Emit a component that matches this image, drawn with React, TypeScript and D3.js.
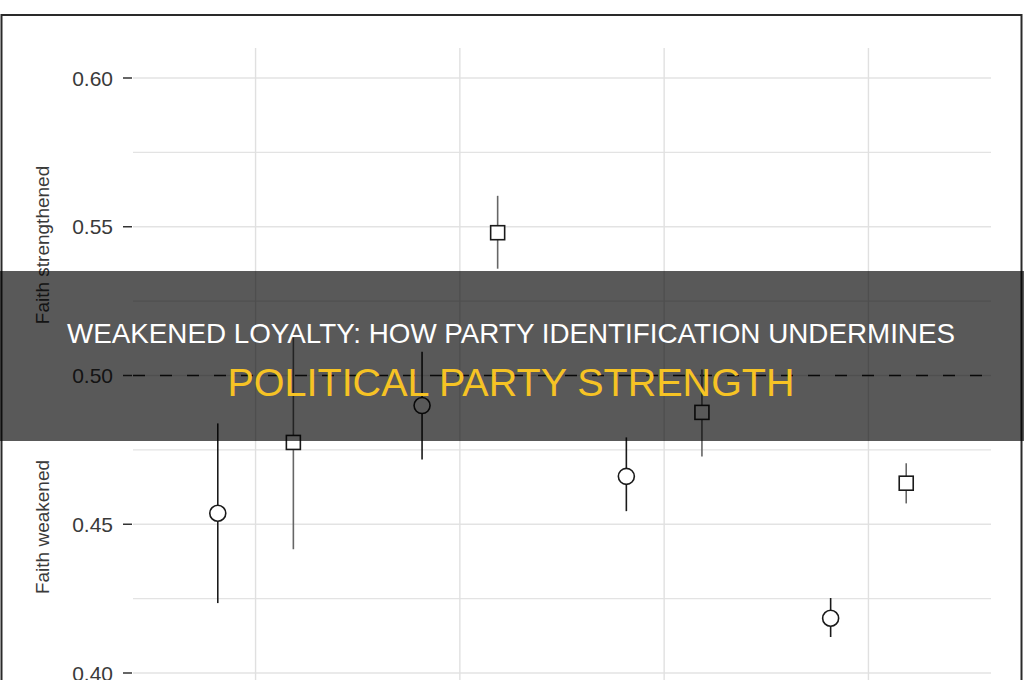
import React from "react";
import * as d3 from "d3";

const categories = ["A", "B", "C", "D"];
const circleEst = [0.4537, 0.4899, 0.4661, 0.4184];
const circleLo = [0.4235, 0.4718, 0.4544, 0.4121];
const circleHi = [0.4839, 0.508, 0.4792, 0.4252];
const squareEst = [0.4775, 0.548, 0.4876, 0.4638];
const squareLo = [0.4416, 0.5359, 0.4728, 0.457];
const squareHi = [0.5128, 0.5604, 0.502, 0.4705];
const yTicks = [0.4, 0.45, 0.5, 0.55, 0.6];
const yMinor = [0.425, 0.475, 0.525, 0.575];
const titleLine1 = "WEAKENED LOYALTY: HOW PARTY IDENTIFICATION UNDERMINES";
const titleLine2 = "POLITICAL PARTY STRENGTH";
const axisUpper = "Faith strengthened";
const axisLower = "Faith weakened";

const W = 1024;
const H = 680;

export default function App() {
  const x = d3.scaleLinear().domain([0.4, 4.6]).range([133, 991]);
  const y = d3.scaleLinear().domain([0.4, 0.6]).range([673, 78]);
  const dodge = 0.185;
  const font = "'Liberation Sans', Arial, sans-serif";
  const panelTop = 48;

  const series = [
    { shape: "circle", est: circleEst, lo: circleLo, hi: circleHi, off: -dodge, bar: "#1a1a1a" },
    { shape: "square", est: squareEst, lo: squareLo, hi: squareHi, off: dodge, bar: "#666" },
  ];

  return (
    <div style={{ position: "fixed", left: 0, top: 0, width: W, height: H, background: "#fff" }}>
      <svg width={W} height={H} style={{ display: "block" }}>
        <rect x={0} y={0} width={W} height={H} fill="#fff" />
        {[...yMinor, ...yTicks].map((t) => (
          <line key={"h" + t} x1={133} x2={991} y1={y(t)} y2={y(t)} stroke="#e3e3e3" strokeWidth={1.4} />
        ))}
        {categories.map((c, i) => (
          <line key={"v" + c} x1={x(i + 1)} x2={x(i + 1)} y1={panelTop} y2={H} stroke="#e0e0e0" strokeWidth={1.4} />
        ))}
        <line x1={133} x2={991} y1={y(0.5)} y2={y(0.5)} stroke="#1a1a1a" strokeWidth={1.3} strokeDasharray="12,15" />
        {yTicks.map((t) => (
          <g key={"t" + t}>
            <line x1={123} x2={132} y1={y(t)} y2={y(t)} stroke="#333" strokeWidth={1.5} />
            <text x={113} y={y(t)} dy="0.36em" textAnchor="end" fontFamily={font} fontSize={21} fill="#3a3a3a">
              {d3.format(".2f")(t)}
            </text>
          </g>
        ))}
        <text transform={`translate(49,${245}) rotate(-90)`} textAnchor="middle" fontFamily={font} fontSize={19} fill="#3a3a3a">
          {axisUpper}
        </text>
        <text transform={`translate(49,${527}) rotate(-90)`} textAnchor="middle" fontFamily={font} fontSize={19} fill="#3a3a3a">
          {axisLower}
        </text>
        {series.map((s) =>
          categories.map((c, i) => {
            const cx = x(i + 1 + s.off);
            return (
              <g key={s.shape + c}>
                <line x1={cx} x2={cx} y1={y(s.lo[i])} y2={y(s.hi[i])} stroke={s.bar} strokeWidth={1.6} />
                {s.shape === "circle" ? (
                  <circle cx={cx} cy={y(s.est[i])} r={8} fill="#fff" stroke="#1a1a1a" strokeWidth={1.6} />
                ) : (
                  <rect x={cx - 7} y={y(s.est[i]) - 7} width={14} height={14} fill="#fff" stroke="#1a1a1a" strokeWidth={1.6} />
                )}
              </g>
            );
          })
        )}
        <rect x={1.5} y={15} width={1020} height={H + 10} fill="none" stroke="#2a2a2a" strokeWidth={2} />
        <rect x={0} y={271} width={W} height={170} fill="rgba(0,0,0,0.65)" />
        <text x={511} y={343} textAnchor="middle" fontFamily={font} fontSize={27.8} fill="#ffffff">
          {titleLine1}
        </text>
        <text x={511} y={396} textAnchor="middle" fontFamily={font} fontSize={39.5} fill="#f6c324">
          {titleLine2}
        </text>
      </svg>
    </div>
  );
}
